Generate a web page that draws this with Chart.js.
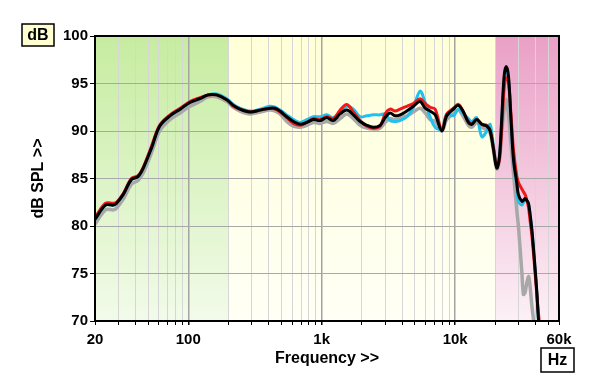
<!DOCTYPE html>
<html>
<head>
<meta charset="utf-8">
<title>Frequency response</title>
<script src="https://cdn.jsdelivr.net/npm/chart.js@4.4.1/dist/chart.umd.min.js"></script>
<style>
  html, body { margin: 0; padding: 0; background: #fff; }
  #wrap { width: 600px; height: 389px; }
</style>
</head>
<body>
<div id="wrap"><canvas id="responseChart" width="600" height="389"></canvas></div>
<script>
// frequencies (Hz) the curves were read at
const freqs = [20, 24, 27.5, 29, 32.5, 37.5, 42, 46, 53, 61, 73, 87, 103, 122, 141, 163, 194, 218, 244, 290,
  345, 410, 447, 487, 547, 614, 689, 773, 866, 972, 1092, 1222, 1374, 1542, 1726, 1940, 2178, 2438, 2737, 2985,
  3252, 3548, 3866, 4342, 4864, 5460, 5956, 6486, 7078, 7944, 8650, 9706, 10568, 11536, 12560, 13336, 14522, 15850, 17260, 18280,
  19360, 20520, 21480, 22380, 23280, 24100, 25080, 26120, 27360, 28980, 29780, 31620, 32500, 33440, 34000, 35400, 36400, 37580, 39080, 40940,
  42080, 44100];

const blackDb = [80.7, 82.2, 82.2, 82.4, 83.3, 84.9, 85.2, 86.1, 88.2, 90.5, 91.6, 92.3, 93.0, 93.4, 93.8, 93.8, 93.3, 92.7, 92.3, 92.0,
  92.2, 92.4, 92.4, 92.1, 91.5, 91.0, 90.7, 90.9, 91.2, 91.1, 91.4, 91.1, 91.8, 92.2, 91.7, 91.0, 90.6, 90.4, 90.6, 91.4,
  91.9, 91.6, 91.7, 92.1, 92.6, 93.1, 92.4, 92.1, 91.7, 90.0, 91.6, 92.3, 92.7, 92.0, 90.9, 90.7, 91.2, 90.7, 90.5, 90.0,
  88.1, 86.1, 87.3, 91.6, 95.8, 96.8, 95.8, 91.6, 87.0, 84.5, 83.3, 82.6, 82.7, 82.9, 82.8, 82.4, 81.3, 79.6, 76.8, 73.0,
  70.2, 67.0];

const redDb = [80.9, 82.4, 82.4, 82.5, 83.4, 85.0, 85.3, 86.2, 88.4, 90.6, 91.7, 92.4, 93.1, 93.5, 93.8, 93.8, 93.3, 92.6, 92.3, 92.0,
  92.2, 92.4, 92.3, 92.0, 91.4, 90.8, 90.6, 90.9, 91.3, 91.2, 91.5, 91.3, 92.2, 92.8, 92.0, 91.1, 90.5, 90.3, 90.5, 91.8,
  92.3, 92.1, 92.3, 92.6, 92.9, 93.4, 92.9, 92.5, 92.3, 90.1, 91.8, 92.4, 92.8, 92.0, 91.0, 90.8, 91.2, 90.7, 90.6, 90.1,
  88.2, 86.2, 87.0, 90.5, 94.5, 95.6, 95.2, 92.0, 88.0, 85.2, 84.6, 83.9, 83.6, 83.3, 83.0, 82.0, 80.6, 79.0, 76.3, 72.8,
  70.8, 68.0];

const cyanDb = [80.7, 82.2, 82.2, 82.4, 83.3, 84.9, 85.2, 86.1, 88.2, 90.5, 91.6, 92.3, 93.0, 93.4, 93.8, 93.9, 93.4, 92.8, 92.4, 92.1,
  92.3, 92.6, 92.5, 92.2, 91.7, 91.2, 90.9, 91.2, 91.5, 91.5, 91.7, 91.4, 92.0, 92.6, 92.3, 91.5, 91.6, 91.7, 91.7, 91.8,
  91.1, 91.0, 91.1, 91.5, 92.5, 94.2, 93.0, 91.5, 90.4, 90.2, 91.8, 91.6, 92.3, 91.8, 91.3, 91.0, 91.4, 89.4, 90.0, 90.7,
  88.5, 86.3, 87.5, 91.3, 95.2, 96.2, 95.5, 91.5, 87.0, 84.2, 82.6, 82.2, 82.5, 82.8, 82.8, 82.3, 81.2, 79.5, 76.7, 72.9,
  70.1, 67.0];

const grayDb = [80.2, 81.7, 81.7, 81.9, 82.8, 84.4, 84.8, 85.6, 87.7, 90.0, 91.2, 91.9, 92.6, 93.1, 93.6, 93.6, 93.1, 92.5, 92.1, 91.8,
  92.0, 92.2, 92.1, 91.8, 91.0, 90.5, 90.4, 90.6, 90.9, 90.8, 91.0, 90.8, 91.3, 91.8, 91.3, 90.6, 90.3, 90.2, 90.3, 90.9,
  91.3, 91.2, 91.4, 91.6, 92.0, 92.4, 91.9, 91.2, 91.0, 90.0, 91.2, 91.8, 92.2, 91.5, 90.6, 90.4, 90.9, 90.4, 90.1, 89.8,
  87.9, 86.0, 87.0, 90.0, 92.3, 93.3, 91.8, 88.8, 85.6, 81.6, 80.0, 75.1, 72.8, 73.0, 73.6, 74.7, 73.7, 71.6, 69.6, 67.0,
  66.0, 65.0];

// grid and tick positions
const xGridHz = [20, 30, 40, 50, 60, 70, 80, 90, 100, 200, 300, 400, 500, 600, 700, 800, 900, 1000,
  2000, 3000, 4000, 5000, 6000, 7000, 8000, 9000, 10000, 20000, 30000, 40000, 50000, 60000];
const xLabels = { 20: '20', 100: '100', 1000: '1k', 10000: '10k', 60000: '60k' };
const majorHz = [100, 1000, 10000];
const yTicks = [70, 75, 80, 85, 90, 95, 100];

// shaded frequency bands
const bands = [
  { from: 20, to: 200, top: '#c6eca0', bottom: '#f2fbea' },
  { from: 200, to: 20000, top: '#ffffd8', bottom: '#fffff6' },
  { from: 20000, to: 60000, top: '#eaa0c6', bottom: '#fcf0f6' }
];

function toPoints(values) {
  return freqs.map((f, i) => ({ x: f, y: values[i] }));
}

const bandPlugin = {
  id: 'bands',
  beforeDraw(chart) {
    const { ctx, chartArea, scales } = chart;
    ctx.save();
    bands.forEach(b => {
      const x1 = scales.x.getPixelForValue(b.from);
      const x2 = scales.x.getPixelForValue(b.to);
      const grad = ctx.createLinearGradient(0, chartArea.top, 0, chartArea.bottom);
      grad.addColorStop(0, b.top);
      grad.addColorStop(1, b.bottom);
      ctx.fillStyle = grad;
      ctx.fillRect(x1, chartArea.top, x2 - x1, chartArea.bottom - chartArea.top);
    });
    ctx.restore();
  },
  afterDraw(chart) {
    const { ctx, chartArea } = chart;
    ctx.save();
    // frame round the plot
    ctx.strokeStyle = '#000';
    ctx.lineWidth = 2;
    ctx.strokeRect(chartArea.left, chartArea.top, chartArea.right - chartArea.left, chartArea.bottom - chartArea.top);

    // unit boxes
    ctx.font = 'bold 16px Arial, "Liberation Sans", sans-serif';
    ctx.textAlign = 'center';
    ctx.textBaseline = 'middle';
    ctx.lineWidth = 1.5;
    ctx.fillStyle = '#ffffd2';
    ctx.fillRect(22, 24, 32, 22);
    ctx.strokeRect(22, 24, 32, 22);
    ctx.fillStyle = '#000';
    ctx.fillText('dB', 38, 35.5);

    ctx.fillStyle = '#fff';
    ctx.fillRect(541, 348, 33, 24);
    ctx.strokeRect(541, 348, 33, 24);
    ctx.fillStyle = '#000';
    ctx.fillText('Hz', 557.5, 360.5);
    ctx.restore();
  }
};

document.addEventListener('DOMContentLoaded', function() {
  const ctx = document.getElementById('responseChart').getContext('2d');
  const tickFont = { family: 'Arial, "Liberation Sans", sans-serif', size: 15, weight: 'bold' };
  const titleFont = { family: 'Arial, "Liberation Sans", sans-serif', size: 16, weight: 'bold' };

  const line = (label, values, color, width) => ({
    label: label,
    data: toPoints(values),
    borderColor: color,
    borderWidth: width,
    pointRadius: 0,
    tension: 0.35,
    fill: false
  });

  new Chart(ctx, {
    type: 'line',
    data: {
      // first dataset ends up on top
      datasets: [
        line('black', blackDb, '#000000', 3),
        line('red', redDb, '#f01818', 3),
        line('cyan', cyanDb, '#20c0f0', 3),
        line('gray', grayDb, '#a8a8a8', 3.5)
      ]
    },
    options: {
      responsive: false,
      animation: false,
      events: [],
      layout: { padding: { left: 0, right: 41, top: 36, bottom: 0 } },
      plugins: { legend: { display: false }, tooltip: { enabled: false } },
      scales: {
        x: {
          type: 'logarithmic',
          min: 20,
          max: 60000,
          afterBuildTicks: axis => { axis.ticks = xGridHz.map(v => ({ value: v })); },
          afterFit: axis => { axis.height = 68; },
          grid: {
            color: c => majorHz.includes(c.tick && c.tick.value) ? '#a4a4a4' : '#d6d6d6',
            lineWidth: c => majorHz.includes(c.tick && c.tick.value) ? 1.5 : 1,
            tickColor: '#000',
            tickLength: 4
          },
          border: { display: false },
          ticks: {
            autoSkip: false,
            maxRotation: 0,
            color: '#000',
            font: tickFont,
            padding: 6,
            callback: v => xLabels[v] || ''
          },
          title: {
            display: true,
            text: 'Frequency >>',
            color: '#000',
            font: titleFont,
            padding: { top: 0, bottom: 21 }
          }
        },
        y: {
          min: 70,
          max: 100,
          afterBuildTicks: axis => { axis.ticks = yTicks.map(v => ({ value: v })); },
          afterFit: axis => { axis.width = 95; },
          grid: {
            color: '#a8a8a8',
            tickColor: '#000',
            tickLength: 5
          },
          border: { display: false },
          ticks: {
            color: '#000',
            font: tickFont,
            padding: 2
          },
          title: {
            display: true,
            text: 'dB SPL >>',
            color: '#000',
            font: titleFont,
            padding: { top: 29, bottom: 0 }
          }
        }
      }
    },
    plugins: [bandPlugin]
  });
});
</script>
</body>
</html>
